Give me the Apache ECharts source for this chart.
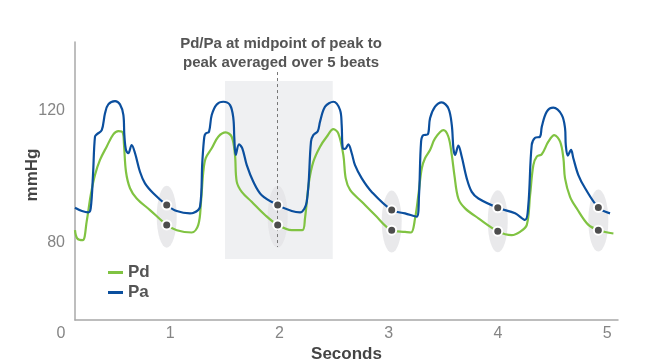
<!DOCTYPE html>
<html>
<head>
<meta charset="utf-8">
<script src="https://cdn.jsdelivr.net/npm/echarts@6/dist/echarts.min.js"></script>
<style>html,body{margin:0;padding:0;background:#fff}#c{width:650px;height:364px}</style>
</head>
<body>
<div id="c"></div>
<script>
// ---- data ----
const xTicks = [0, 1, 2, 3, 4, 5];
const yTicks = [80, 120];
const titleLines = ['Pd/Pa at midpoint of peak to', 'peak averaged over 5 beats'];
// Pa (aortic) pressure trace: [seconds, mmHg]
const paTrace = [
  [0.128,90.7],[0.192,89.7],[0.250,89.3],[0.272,90.5],[0.293,100.6],[0.311,112.2],[0.330,113.0],[0.373,114.2],
  [0.403,119.3],[0.433,122.0],[0.495,123.0],[0.540,122.0],[0.571,118.8],[0.580,112.7],[0.595,108.2],[0.616,107.2],
  [0.647,109.7],[0.678,107.2],[0.723,101.6],[0.769,98.1],[0.845,95.1],[0.968,91.5],[1.060,89.7],[1.181,89.0],
  [1.209,89.1],[1.273,91.0],[1.294,104.6],[1.312,112.2],[1.325,113.2],[1.355,113.7],[1.380,118.8],[1.426,122.0],
  [1.486,122.8],[1.548,121.8],[1.578,117.8],[1.587,111.7],[1.600,106.7],[1.630,109.9],[1.660,108.7],[1.701,103.6],
  [1.761,98.6],[1.838,94.5],[1.984,91.5],[2.113,89.7],[2.189,89.3],[2.250,92.5],[2.289,110.7],[2.310,112.7],
  [2.351,113.9],[2.372,116.8],[2.418,121.3],[2.494,122.8],[2.555,120.3],[2.570,115.8],[2.580,108.7],[2.601,108.5],
  [2.631,109.9],[2.662,107.2],[2.692,103.6],[2.754,99.6],[2.845,95.5],[3.028,90.0],[3.150,89.0],[3.257,88.0],
  [3.278,94.5],[3.297,110.7],[3.318,112.7],[3.358,112.9],[3.379,117.8],[3.425,121.3],[3.486,122.6],[3.547,120.8],
  [3.578,115.8],[3.593,108.7],[3.608,106.7],[3.638,109.5],[3.669,106.2],[3.715,99.6],[3.761,95.5],[3.822,93.5],
  [3.999,90.7],[4.158,89.0],[4.249,87.0],[4.279,91.5],[4.310,109.7],[4.341,111.9],[4.386,112.2],[4.402,115.2],
  [4.448,119.8],[4.508,121.0],[4.585,118.8],[4.615,114.8],[4.622,109.7],[4.640,106.5],[4.670,108.2],[4.691,105.7],
  [4.737,100.6],[4.799,96.6],[4.920,90.8],[5.027,89.0]
];
// Pd (distal) pressure trace: [seconds, mmHg]
const pdTrace = [
  [0.128,83.9],[0.149,81.4],[0.199,80.9],[0.235,86.5],[0.272,94.5],[0.311,100.6],[0.357,105.2],[0.418,109.2],
  [0.479,112.9],[0.525,113.9],[0.565,113.5],[0.577,109.7],[0.595,101.6],[0.632,96.6],[0.693,93.5],[0.815,90.0],
  [0.968,85.5],[1.060,83.9],[1.197,83.2],[1.257,85.5],[1.282,92.5],[1.303,101.6],[1.325,105.7],[1.380,108.7],
  [1.440,112.2],[1.508,113.5],[1.563,112.2],[1.593,106.7],[1.609,98.6],[1.655,95.5],[1.746,92.5],[1.868,88.5],
  [1.984,85.5],[2.113,83.9],[2.210,83.9],[2.234,87.5],[2.271,98.6],[2.310,104.6],[2.372,109.2],[2.433,112.2],
  [2.494,114.5],[2.539,113.2],[2.585,106.7],[2.607,99.6],[2.647,96.1],[2.754,92.5],[2.875,88.5],[3.028,83.9],
  [3.150,83.4],[3.205,83.2],[3.242,87.5],[3.272,94.5],[3.303,102.6],[3.333,105.7],[3.379,108.2],[3.425,111.7],
  [3.501,114.2],[3.547,112.2],[3.578,106.7],[3.602,100.6],[3.638,93.5],[3.700,90.5],[3.822,87.5],[3.999,83.6],
  [4.127,82.4],[4.203,83.4],[4.265,85.5],[4.295,94.5],[4.325,103.6],[4.356,106.2],[4.402,106.9],[4.462,110.7],
  [4.517,112.7],[4.570,110.7],[4.600,105.7],[4.615,99.6],[4.661,94.0],[4.722,90.5],[4.829,85.5],[4.927,83.9],[5.058,82.9]
];
// sample points (midpoint of peak-to-peak) per beat
const sampleTimes = [0.968, 1.984, 3.028, 3.999, 4.920];
const samplePa = [91.5, 91.5, 90.0, 90.7, 90.8];
const samplePd = [85.5, 85.5, 83.9, 83.6, 83.9];
const ellipseCenters = [88.0, 88.0, 86.5, 86.6, 86.8];
// highlighted beat window and dashed marker
const windowRange = [1.502, 2.488];
const windowValues = [75.2, 129.1];
const markerTime = 1.984;
const markerValues = [131.8, 78.8];

// ---- chart ----
const FONT = '"Liberation Sans", Arial, sans-serif';
const GREEN = '#80c342', BLUE = '#0b4f9e';
const chart = echarts.init(document.getElementById('c'), null, {renderer: 'canvas'});
const yMin = 56.7, yMax = 140.9, xMax = 5.1;
const grids = [
  {left: 61, right: 32, top: 42, bottom: 44, outerBoundsMode: 'none', containLabel: false},
  {left: 75, right: 32, top: 42, bottom: 44, outerBoundsMode: 'none', containLabel: false}
];
chart.setOption({
  animation: false,
  backgroundColor: '#fff',
  title: {
    text: titleLines.join('\n'),
    left: 276, top: 29, textAlign: 'center',
    textStyle: {fontFamily: FONT, fontSize: 15, fontWeight: 'bold', color: '#555', lineHeight: 19}
  },
  legend: {
    data: ['Pd', 'Pa'], orient: 'vertical', left: 103, top: 259,
    icon: 'rect', itemWidth: 15, itemHeight: 3, itemGap: 3,
    textStyle: {fontFamily: FONT, fontSize: 17, fontWeight: 'bold', color: '#555', lineHeight: 17}
  },
  grid: grids,
  xAxis: [
    {type: 'value', gridIndex: 0, min: 0, max: xMax, interval: 1,
     axisLine: {show: false}, axisTick: {show: false}, splitLine: {show: false},
     axisLabel: {fontFamily: FONT, fontSize: 16, color: '#858585', margin: 6,
       formatter: v => xTicks.includes(v) ? String(v) : ''}},
    {type: 'value', gridIndex: 1, min: 0, max: xMax,
     axisLine: {show: true, onZero: false, lineStyle: {color: '#a8a8a8', width: 1.5}},
     axisTick: {show: false}, splitLine: {show: false}, axisLabel: {show: false},
     name: 'Seconds', nameLocation: 'middle', nameGap: 26, nameMoveOverlap: false,
     nameTextStyle: {fontFamily: FONT, fontSize: 17, fontWeight: 'bold', color: '#444'}}
  ],
  yAxis: [
    {type: 'value', gridIndex: 0, min: yMin, max: yMax,
     axisLine: {show: false}, axisTick: {show: false}, splitLine: {show: false}, axisLabel: {show: false}},
    {type: 'value', gridIndex: 1, min: yMin, max: yMax,
     axisLine: {show: true, onZero: false, lineStyle: {color: '#a8a8a8', width: 1.5}},
     axisTick: {show: false}, splitLine: {show: false},
     axisLabel: {customValues: yTicks, fontFamily: FONT, fontSize: 16, color: '#858585', margin: 10},
     name: 'mmHg', nameLocation: 'middle', nameGap: 34, nameRotate: 90, nameMoveOverlap: false,
     nameTextStyle: {fontFamily: FONT, fontSize: 17, fontWeight: 'bold', color: '#444', padding: [0, 0, 0, 12]}}
  ],
  series: [
    {type: 'line', name: 'window', xAxisIndex: 0, yAxisIndex: 0, data: [], z: 1, silent: true,
     markArea: {silent: true, itemStyle: {color: '#eff0f2'},
       data: [[{coord: [windowRange[0], windowValues[1]]}, {coord: [windowRange[1], windowValues[0]]}]]}},
    {type: 'scatter', name: 'ellipse', xAxisIndex: 0, yAxisIndex: 0, z: 2, silent: true,
     symbol: 'circle', symbolSize: [20, 62], itemStyle: {color: '#e3e4e6'},
     data: sampleTimes.map((t, i) => [t, ellipseCenters[i]])},
    {type: 'line', name: 'marker', xAxisIndex: 0, yAxisIndex: 0, data: [], z: 3, silent: true,
     markLine: {silent: true, symbol: 'none', label: {show: false},
       lineStyle: {color: '#777', type: [3, 3], width: 1},
       data: [[{coord: [markerTime, markerValues[0]]}, {coord: [markerTime, markerValues[1]]}]]}},
    {type: 'line', name: 'Pd', xAxisIndex: 0, yAxisIndex: 0, z: 4, data: pdTrace,
     showSymbol: false, smooth: 0.35,
     lineStyle: {color: GREEN, width: 2.2}, itemStyle: {color: GREEN}},
    {type: 'line', name: 'Pa', xAxisIndex: 0, yAxisIndex: 0, z: 4, data: paTrace,
     showSymbol: false, smooth: 0.35,
     lineStyle: {color: BLUE, width: 2.2}, itemStyle: {color: BLUE}},
    {type: 'scatter', name: 'samples', xAxisIndex: 0, yAxisIndex: 0, z: 5, silent: true,
     symbolSize: 9, itemStyle: {color: '#4d4d4d', borderColor: '#fff', borderWidth: 2, opacity: 1},
     data: sampleTimes.map((t, i) => [t, samplePa[i]]).concat(sampleTimes.map((t, i) => [t, samplePd[i]]))}
  ]
});
</script>
</body>
</html>
